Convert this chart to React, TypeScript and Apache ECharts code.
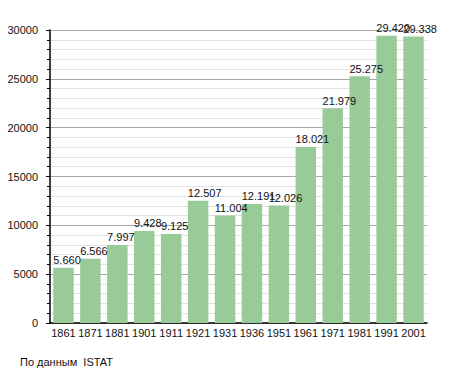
import React, { useEffect, useRef } from "react";
import * as echarts from "echarts";

const years = ["1861", "1871", "1881", "1901", "1911", "1921", "1931", "1936", "1951", "1961", "1971", "1981", "1991", "2001"];
const population = [5660, 6566, 7997, 9428, 9125, 12507, 11004, 12191, 12026, 18021, 21979, 25275, 29420, 29338];
const sourceText = "По данным  ISTAT";

const fmt = (v: number) => {
  const s = String(Math.round(v));
  return s.replace(/\B(?=(\d{3})+(?!\d))/g, ".");
};

export default function App() {
  const ref = useRef<HTMLDivElement>(null);
  useEffect(() => {
    if (!ref.current) return;
    const chart = echarts.init(ref.current, undefined, { renderer: "svg" });
    const font = "'Liberation Sans', Arial, sans-serif";
    chart.setOption({
      animation: false,
      backgroundColor: "#ffffff",
      textStyle: { fontFamily: font },
      grid: { left: 50, right: 28, top: 30, bottom: 50, containLabel: false },
      xAxis: {
        type: "category",
        data: years,
        axisLine: { show: true, lineStyle: { color: "#000", width: 1.5 } },
        axisTick: { show: false },
        axisLabel: { color: "#111", fontSize: 11, margin: 4, interval: 0, fontFamily: font },
        splitLine: { show: false },
      },
      yAxis: {
        type: "value",
        min: 0,
        max: 30000,
        interval: 5000,
        axisLine: { show: true, lineStyle: { color: "#000", width: 1.5 } },
        axisTick: { show: true, length: 4, lineStyle: { color: "#000" } },
        minorTick: { show: true, splitNumber: 5, length: 3, lineStyle: { color: "#000" } },
        axisLabel: { color: "#111", fontSize: 11, margin: 12, fontFamily: font, formatter: (v: number) => String(v) },
        splitLine: { show: true, lineStyle: { color: "#a8a8a8", width: 1 } },
        minorSplitLine: { show: true, lineStyle: { color: "#e2e2e2", width: 1 } },
      },
      series: [
        {
          type: "bar",
          data: population,
          barCategoryGap: "24%",
          itemStyle: { color: "#98cb98" },
          label: {
            show: true,
            position: [0, -2],
            align: "left",
            verticalAlign: "bottom",
            color: "#111",
            fontSize: 11,
            fontFamily: font,
            formatter: (p: any) => fmt(p.value),
          },
        },
      ],
      graphic: [
        {
          type: "text",
          left: 20,
          top: 356,
          style: { text: sourceText, fill: "#111", fontSize: 11, fontFamily: font },
        },
      ],
    });
    return () => chart.dispose();
  }, []);
  return <div ref={ref} style={{ width: 455, height: 373, position: "absolute", left: 0, top: 0 }} />;
}
